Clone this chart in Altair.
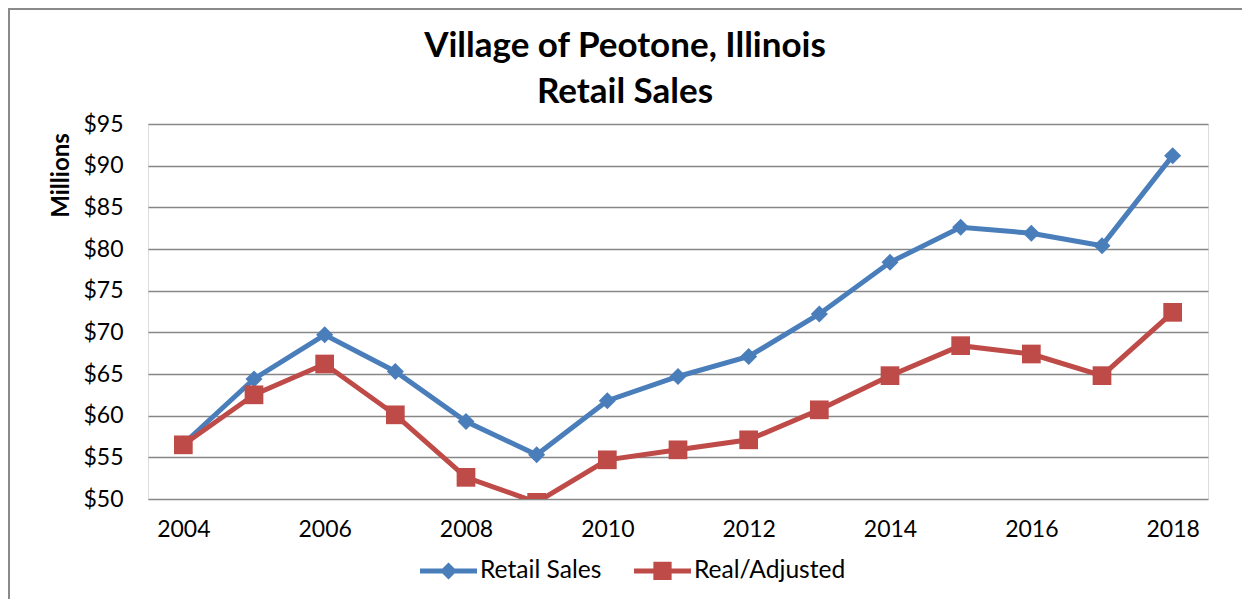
import altair as alt
import pandas as pd

# ---- data ----
years = [2004, 2005, 2006, 2007, 2008, 2009, 2010, 2011, 2012, 2013, 2014, 2015, 2016, 2017, 2018]
retail_sales = [56.6, 64.4, 69.7, 65.3, 59.3, 55.3, 61.8, 64.7, 67.1, 72.2, 78.4, 82.6, 81.9, 80.4, 91.2]
real_adjusted = [56.5, 62.5, 66.2, 60.1, 52.6, 49.6, 54.7, 55.9, 57.1, 60.7, 64.8, 68.4, 67.4, 64.8, 72.4]
series_names = ["Retail Sales", "Real/Adjusted"]
y_ticks = [50, 55, 60, 65, 70, 75, 80, 85, 90, 95]
x_labels = [2004, 2006, 2008, 2010, 2012, 2014, 2016, 2018]
title_lines = ["Village of Peotone, Illinois", "Retail Sales"]

# ---- styles ----
BLUE = "#4A7EBB"
RED = "#BE4B48"
GRID = "#878787"
FONT = "Lato"

df = pd.DataFrame({
    "year": years + years,
    "value": retail_sales + real_adjusted,
    "series": [series_names[0]] * len(years) + [series_names[1]] * len(years),
})

x_enc = alt.X(
    "year:O",
    scale=alt.Scale(type="point", padding=0.5),
    axis=alt.Axis(values=x_labels, title=None, labelAngle=0, ticks=False, tickSize=0,
                  domain=False, grid=False, labelPadding=19, labelFont=FONT,
                  labelFontSize=23, labelColor="black"),
)
y_enc = alt.Y(
    "value:Q",
    scale=alt.Scale(domain=[50, 95], nice=False, zero=False),
    axis=alt.Axis(values=y_ticks, format="$.0f", title="Millions", titleFont=FONT,
                  titleFontSize=24, titleFontWeight="bold", titleColor="black",
                  titleAngle=270, titleX=-80, titleY=51, titleAlign="center",
                  titleBaseline="alphabetic", labelFont=FONT, labelFontSize=23,
                  labelColor="black", labelPadding=25, ticks=False, tickSize=0,
                  domain=False, grid=True, gridColor=GRID, gridWidth=1.5),
)

base = alt.Chart(df)

def series_layers(name, color, shape, size):
    sub = base.transform_filter(alt.datum.series == name)
    line = sub.mark_line(color=color, strokeWidth=5, clip=True).encode(x=x_enc, y=y_enc)
    pts = sub.mark_point(color=color, filled=True, shape=shape, size=size, opacity=1,
                         clip=True).encode(x=x_enc, y=y_enc)
    return [line, pts]

# legend symbols: line with marker (custom paths in unit square)
diamond_path = ("M-1,-0.09 L1,-0.09 L1,0.09 L-1,0.09 Z "
                "M0,-0.3 L0.3,0 L0,0.3 L-0.3,0 Z")
square_path = ("M-1,-0.09 L1,-0.09 L1,0.09 L-1,0.09 Z "
               "M-0.32,-0.32 L0.32,-0.32 L0.32,0.32 L-0.32,0.32 Z")

leg = alt.Legend(title=None, orient="none", legendX=272, legendY=418,
                 direction="horizontal", symbolSize=3249, symbolStrokeWidth=0,
                 symbolOpacity=1, labelFont=FONT, labelFontSize=24.6, labelColor="black",
                 labelOffset=3, columnPadding=32, labelLimit=400)

legend_layer = alt.Chart(pd.DataFrame({"series": series_names})).mark_point(
    filled=True, clip=True, opacity=1, strokeWidth=0
).encode(
    x=alt.value(0),
    y=alt.value(5000),
    shape=alt.Shape("series:N", scale=alt.Scale(domain=series_names,
                                                range=[diamond_path, square_path]),
                    legend=leg),
    fill=alt.Fill("series:N", scale=alt.Scale(domain=series_names, range=[BLUE, RED]),
                  legend=leg),
)

frame_df = pd.DataFrame({"b": [0]})
border_top = alt.Chart(frame_df).mark_rule(color="#8a8a8a", strokeWidth=2).encode(
    x=alt.value(-140), x2=alt.value(1094), y=alt.value(-115))
border_left = alt.Chart(frame_df).mark_rule(color="#8a8a8a", strokeWidth=2).encode(
    x=alt.value(-139), y=alt.value(-116), y2=alt.value(475))

layers = ([border_top, border_left]
          + series_layers(series_names[0], BLUE, "diamond", 290)
          + series_layers(series_names[1], RED, "square", 350)
          + [legend_layer])

chart = alt.layer(*layers).properties(
    width=1060,
    height=375,
    padding={"left": 140, "top": 116, "right": 34, "bottom": 100},
    autosize=alt.AutoSizeParams(type="none"),
    title=alt.TitleParams(text=title_lines, font=FONT, fontSize=35, fontWeight="bold",
                          color="black", anchor="middle", frame="group", dx=-53,
                          dy=116, offset=13, lineHeight=46),
).configure_view(stroke=None).configure(background="white")

chart.save("out.html", embed_options={"renderer": "svg", "actions": False})
